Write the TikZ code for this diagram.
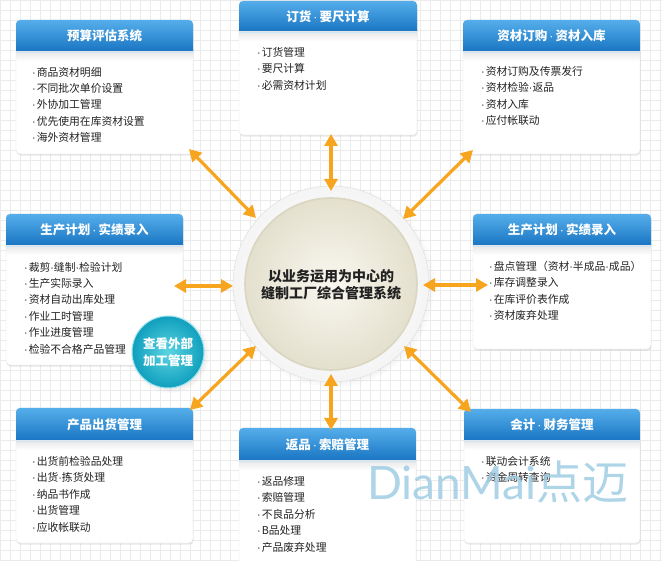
\documentclass[tikz,border=0pt]{standalone}
\usepackage{fontspec}
\setmainfont{Noto Sans CJK SC}
\newfontfamily\wmfont{Lato}
\newfontfamily\cjkfont{Noto Sans CJK SC}
\newfontfamily\latfont{Liberation Sans}
\newcommand\md{{\latfont\mdseries ·}}
\newcommand\tmd{\,{\latfont\mdseries ·}\,}
\usetikzlibrary{arrows.meta,shadows}
\definecolor{hdtop}{HTML}{55AEEA}
\definecolor{hdbot}{HTML}{1874C2}
\definecolor{arr}{HTML}{F7A51E}
\definecolor{gridc}{HTML}{EBEBEB}
\definecolor{beigeA}{HTML}{F9F7F0}
\definecolor{beigeB}{HTML}{E4E0CE}
\definecolor{beigeC}{HTML}{DAD6C2}
\definecolor{tealA}{HTML}{5AD4E2}
\definecolor{tealB}{HTML}{109FBD}
\definecolor{wmc}{HTML}{9FCDE3}
\definecolor{txt}{HTML}{222222}
\tikzset{
  boxbody/.style={rectangle, rounded corners=4pt, fill=white, draw=black!10, line width=0.4pt,
    drop shadow={opacity=0.18, shadow xshift=0.6pt, shadow yshift=-1.6pt}},
  boxtitle/.style={text=white, font=\fontsize{12.5}{15}\selectfont\bfseries, inner sep=0pt},
  boxitem/.style={text=txt, font=\fontsize{10.8}{13}\selectfont, anchor=west, inner sep=0pt},
  link/.style={draw=arr, line width=3.2pt, {Triangle[length=12pt,width=13pt]}-{Triangle[length=12pt,width=13pt]}},
}
\newcommand\pbox[7]{%
  \node[boxbody, minimum width={(#4-#2)*1pt}, minimum height={(#5-#3)*1pt}] (#1) at ({(#2+#4)/2},{(#3+#5)/2}) {};
  \begin{scope}
    \clip[rounded corners=4pt] (#2,#3) rectangle (#4,#5);
    \shade[top color=hdtop, bottom color=hdbot] (#2,#3) rectangle (#4,#6);
    \shade[top color=black!9, bottom color=white] (#2,#6) rectangle (#4,#6+9);
    \draw[white!70!hdtop, line width=0.8pt] (#2,#6+0.5) -- (#4,#6+0.5);
  \end{scope}
  \node[boxtitle] (#1t) at ({(#2+#4)/2},{(#3+#6)/2}) {#7};
}
\newcommand\pitems[5]{%
  \foreach \t [count=\i] in {#5} {\node[boxitem] (#1-\i) at (#2,{#3+(\i-1)*#4}) {\md\kern1pt\t};}
}
\begin{document}
\begin{tikzpicture}[x=1pt,y=-1pt]
\useasboundingbox (0,0) rectangle (662,561);
\clip (0,0) rectangle (662,561);
\fill[white] (0,0) rectangle (662,561);
\draw[gridc, line width=0.6pt, step=10pt] (0,0) grid (662,561);

% boxes
\pbox{b1}{16}{20}{193}{154}{52}{预算评估系统}
\pitems{b1}{32}{72}{16.4}{商品资材明细,不同批次单价设置,外协加工管理,优先使用在库资材设置,海外资材管理}
\pbox{b2}{239}{1}{417}{135}{32}{订货\tmd 要尺计算}
\pitems{b2}{257}{52}{16.5}{订货管理,要尺计算,必需资材计划}
\pbox{b3}{463}{20}{640}{154}{52}{资材订购\tmd 资材入库}
\pitems{b3}{481}{71}{16.5}{资材订购及传票发行,资材检验\md 返品,资材入库,应付帐联动}
\pbox{b4}{6}{214}{183}{365}{246}{生产计划\tmd 实绩录入}
\pitems{b4}{24}{267}{16.4}{裁剪\md 缝制\md 检验计划,生产实际录入,资材自动出库处理,作业工时管理,作业进度管理,检验不合格产品管理}
\pbox{b5}{473}{214}{651}{349}{246}{生产计划\tmd 实绩录入}
\pitems{b5}{489}{266}{16.5}{盘点管理（资材\md 半成品\md 成品）,库存调整录入,在库评价表作成,资材废弃处理}
\pbox{b6}{16}{408}{193}{543}{441}{产品出货管理}
\pitems{b6}{32}{461}{16.5}{出货前检验品处理,出货\md 拣货处理,纳品书作成,出货管理,应收帐联动}
\pbox{b7}{239}{428}{416}{590}{461}{返品\tmd 索赔管理}
\pitems{b7}{257}{481}{16.5}{返品修理,索赔管理,不良品分析,B品处理,产品废弃处理}
\pbox{b8}{464}{409}{640}{543}{441}{会计\tmd 财务管理}
\pitems{b8}{481}{461}{16.5}{联动会计系统,资金周转查询}

% centre
\node[circle, minimum size=196pt, inner sep=0pt, inner color=white, outer color=black!4, draw=black!12, line width=0.5pt,
  circular drop shadow={opacity=0.2, shadow scale=1.04}] (ring) at (331,284) {};
\node[circle, minimum size=172pt, inner sep=0pt, inner color=beigeA, outer color=beigeB, draw=beigeC, line width=1.6pt] (core) at (331,284) {};
\node[align=center, text=txt, font=\fontsize{14}{17}\selectfont\bfseries] (ctext) at (331,285) {以业务运用为中心的\\缝制工厂综合管理系统};

% external processing badge
\node[circle, minimum size=72pt, inner sep=0pt, inner color=tealA, outer color=tealB, draw=white!40!tealA, line width=1pt,
  circular drop shadow={opacity=0.15}] (ext) at (168,352) {};
\node[align=center, text=white, font=\fontsize{12.5}{16.5}\selectfont\bfseries] (extt) at (168,352) {查看外部\\加工管理};

% arrow end points
\coordinate (p1a) at (189,149); \coordinate (p1b) at (256,218);
\coordinate (p2a) at (331,134); \coordinate (p2b) at (331,191);
\coordinate (p3a) at (473,150); \coordinate (p3b) at (403,219);
\coordinate (p4a) at (174,286); \coordinate (p4b) at (233,286);
\coordinate (p5a) at (488,285); \coordinate (p5b) at (423,285);
\coordinate (p6a) at (190,410); \coordinate (p6b) at (256,346);
\coordinate (p7a) at (331,430); \coordinate (p7b) at (331,374);
\coordinate (p8a) at (471,412); \coordinate (p8b) at (404,346);
\foreach \k in {1,...,8} {\draw[link] (p\k a) -- (p\k b);}

% watermark
\node[anchor=base west, inner sep=0pt, text=wmc, opacity=0.85, font=\fontsize{46}{50}\selectfont] (wm) at (367,500) {\wmfont DianMai\cjkfont 点迈};
\end{tikzpicture}
\end{document}
